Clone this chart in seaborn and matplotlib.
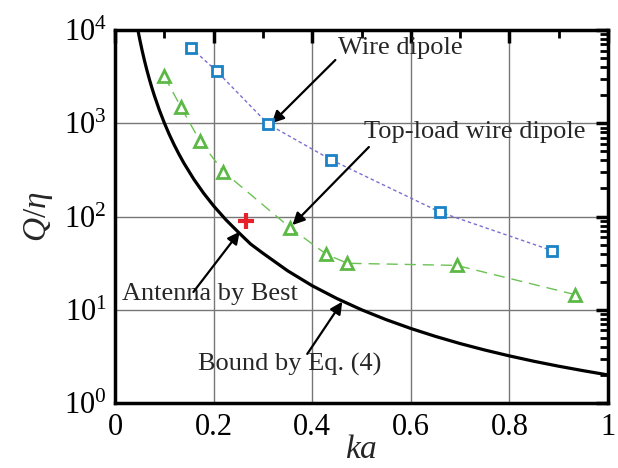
import numpy as np
import pandas as pd
import matplotlib
matplotlib.use("Agg")
import matplotlib.pyplot as plt
import seaborn as sns
from matplotlib.ticker import FixedLocator, LogLocator, NullFormatter

# ---- data ----
wire_ka = [0.154, 0.206, 0.311, 0.439, 0.660, 0.887]
wire_q = [6460, 3630, 975, 404, 111, 43]

top_ka = [0.100, 0.134, 0.172, 0.220, 0.355, 0.428, 0.471, 0.693, 0.934]
top_q = [3210, 1480, 650, 302, 76, 39.6, 31.5, 29.9, 14.5]

best_ka = [0.266]
best_q = [89.5]

bound_ka = [0.046, 0.05, 0.055, 0.06, 0.065, 0.07, 0.075, 0.08, 0.09, 0.10, 0.11, 0.12,
            0.13, 0.14, 0.16, 0.18, 0.20, 0.225, 0.25, 0.275, 0.30, 0.35, 0.40, 0.45,
            0.50, 0.55, 0.60, 0.65, 0.70, 0.75, 0.80, 0.85, 0.90, 0.95, 1.00]
bound_q = [10300, 8020, 6029, 4647, 3657, 2930, 2384, 1966, 1383, 1010, 760, 587,
           463, 371.5, 250.4, 177.1, 130, 92.2, 68, 50.7, 40.4, 26.2, 18.1, 13.2,
           10.0, 7.83, 6.30, 5.18, 4.34, 3.70, 3.20, 2.80, 2.48, 2.22, 2.00]

x_ticks = [0, 0.2, 0.4, 0.6, 0.8, 1]
x_tick_labels = ["0", "0.2", "0.4", "0.6", "0.8", "1"]
y_ticks = [1, 10, 100, 1000, 10000]
y_tick_labels = [r"$\mathregular{10^{0}}$", r"$\mathregular{10^{1}}$", r"$\mathregular{10^{2}}$",
                 r"$\mathregular{10^{3}}$", r"$\mathregular{10^{4}}$"]

# ---- style ----
sns.set_style("white")
plt.rcParams['font.family'] = ['Liberation Serif', 'DejaVu Serif']
plt.rcParams['mathtext.fontset'] = 'custom'
plt.rcParams['mathtext.rm'] = 'Liberation Serif'
plt.rcParams['mathtext.it'] = 'Liberation Serif:italic'

fig = plt.figure(figsize=(6.18, 4.68), dpi=100)
ax = fig.add_axes([115 / 618, 1 - 403 / 468, (608 - 115) / 618, (403 - 30) / 468])

wire_df = pd.DataFrame({"ka": wire_ka, "Q": wire_q})
top_df = pd.DataFrame({"ka": top_ka, "Q": top_q})
bound_df = pd.DataFrame({"ka": bound_ka, "Q": bound_q})

ax.set_yscale("log")

sns.lineplot(data=bound_df, x="ka", y="Q", ax=ax, color="black", lw=2.3, zorder=3)
sns.lineplot(data=wire_df, x="ka", y="Q", ax=ax, color="#7a6fd0", lw=1.0,
             linestyle=(0, (2.5, 2)), zorder=3)
sns.lineplot(data=top_df, x="ka", y="Q", ax=ax, color="#6cc255", lw=1.0,
             linestyle=(0, (8, 5)), zorder=3)
ax.plot(wire_ka, wire_q, linestyle="none", marker="s", ms=7, mfc="white",
        mec="#1b82c5", mew=2.0, zorder=4)
ax.plot(top_ka, top_q, linestyle="none", marker="^", ms=9, mfc="white",
        mec="#5cb946", mew=2.0, zorder=4)
ax.plot(best_ka, best_q, linestyle="none", marker="+", ms=11, mec="#e8202a",
        mew=3.0, zorder=4)

ax.set_xlim(0, 1)
ax.set_ylim(1, 10000)

ax.xaxis.set_major_locator(FixedLocator(x_ticks))
ax.set_xticklabels(x_tick_labels)
ax.xaxis.set_minor_locator(FixedLocator([0.1, 0.3, 0.5, 0.7, 0.9]))
ax.yaxis.set_major_locator(FixedLocator(y_ticks))
ax.set_yticklabels(y_tick_labels)
ax.yaxis.set_minor_locator(LogLocator(base=10, subs=np.arange(2, 10), numticks=20))
ax.yaxis.set_minor_formatter(NullFormatter())

ax.tick_params(which="both", direction="in", top=True, right=True, width=2.5, colors="black",
               labelsize=22, pad=6)
ax.tick_params(which="major", length=9)
ax.tick_params(which="minor", length=6, width=2.0)
ax.tick_params(axis="x", which="major", pad=7)

ax.grid(True, which="major", color="#777777", lw=1.0)
for s in ax.spines.values():
    s.set_linewidth(2.5)
    s.set_color("black")

ax.set_xlabel(r"$ka$", fontsize=24, labelpad=-5)
ax.set_ylabel(r"$Q/\eta$", fontsize=24, labelpad=6)

arrow = dict(arrowstyle="-|>", color="black", lw=1.6, mutation_scale=18,
             shrinkA=0, shrinkB=0)
ax.annotate("Wire dipole", xy=(0.452, 6410), fontsize=19, ha="left", va="center")
ax.annotate("", xy=(0.318, 1000), xytext=(0.447, 4770), arrowprops=arrow)
ax.annotate("Top-load wire dipole", xy=(0.506, 805), fontsize=19, ha="left", va="center")
ax.annotate("", xy=(0.36, 81), xytext=(0.515, 556), arrowprops=arrow)
ax.annotate("Antenna by Best", xy=(0.014, 14.8), fontsize=19, ha="left", va="center")
ax.annotate("", xy=(0.253, 68.8), xytext=(0.159, 15.5), arrowprops=arrow)
ax.annotate("Bound by Eq. (4)", xy=(0.169, 2.56), fontsize=19, ha="left", va="center")
ax.annotate("", xy=(0.461, 12.2), xytext=(0.390, 3.36), arrowprops=arrow)

fig.savefig("out.png", dpi=100)
